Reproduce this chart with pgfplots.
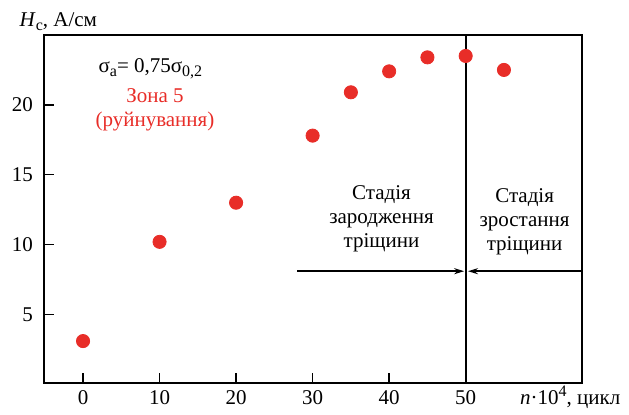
\documentclass[border=0pt]{standalone}
\usepackage{fontspec}
\setmainfont{Liberation Serif}
\usepackage{pgfplots}
\pgfplotsset{compat=1.18}
\usetikzlibrary{arrows.meta}
\definecolor{dotred}{RGB}{232,45,40}
\newcommand\sub[1]{\raisebox{-0.45ex}{\fontsize{8}{9}\selectfont #1}}
\begin{document}
\begin{tikzpicture}[font=\fontsize{10.5}{12}\selectfont]
\begin{axis}[
  scale only axis,
  width=269pt, height=174pt,
  xmin=-5.1, xmax=65.2, ymin=0.1, ymax=25,
  xtick={0,10,20,30,40,50},
  ytick={5,10,15,20},
  tick pos=left, tick align=inside,
  major tick length=5pt,
  axis line style={line width=0.8pt},
  tick style={line width=0.7pt, black},
  /pgf/number format/assume math mode=true,
  yticklabel style={xshift=-2pt},
  clip=false,
]
\addplot[only marks, mark=*, mark size=3.3pt, color=dotred] coordinates {
  (0,3.1) (10,10.2) (20,13.0) (30,17.8) (35,20.9) (40,22.4) (45,23.4) (50,23.5) (55,22.5)
};
\addplot[black, line width=1pt] coordinates {(50,0.1) (50,25)};
\addplot[black, line width=0.8pt, -{Stealth[length=5pt,width=3pt]}] coordinates {(28,8.1) (49.8,8.1)};
\addplot[black, line width=0.8pt, -{Stealth[length=5pt,width=3pt]}] coordinates {(65.2,8.1) (50.3,8.1)};
\node at (axis cs:8.8,22.6) {σ\sub{a}= 0,75σ\sub{0,2}};
\node[text=dotred, align=center] at (axis cs:9.4,19.65) {Зона 5\\(руйнування)};
\node[align=center] at (axis cs:39.0,11.86) {Стадія\\зародження\\тріщини};
\node[align=center] at (axis cs:57.7,11.64) {Стадія\\зростання\\тріщини};
\node[anchor=base west, xshift=-15.7pt, yshift=4.5pt] at (rel axis cs:0,1) {\textit{H}\sub{c}, А/см};
\node[anchor=base west, yshift=-10.5pt] at (rel axis cs:0.872,0) {\textit{n}·10\raisebox{0.8ex}{\fontsize{8}{9}\selectfont 4}, цикл};
\path (rel axis cs:0,0) ++(-22pt,-15.5pt);
\path (rel axis cs:1,1) ++(23.5pt,17.5pt);
\end{axis}
\end{tikzpicture}
\end{document}
